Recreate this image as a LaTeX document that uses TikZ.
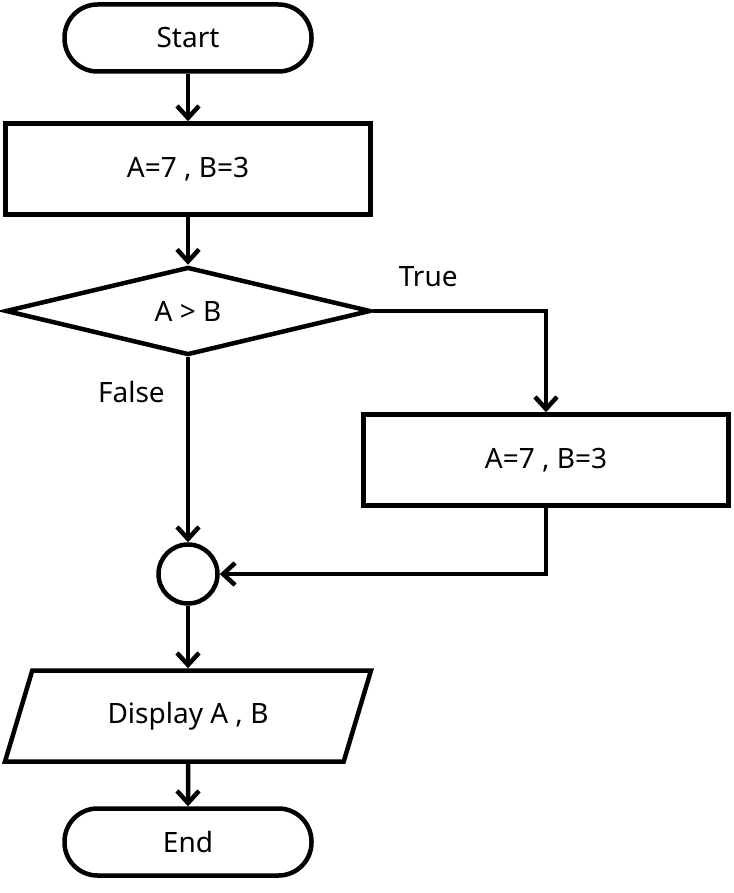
\documentclass[tikz,border=0pt]{standalone}
\usepackage{fontspec}
\setmainfont{Noto Sans}
\usetikzlibrary{arrows.meta}
\usetikzlibrary{shapes.geometric}

\begin{document}
\begin{tikzpicture}[x=1pt,y=-1pt,line width=4.5pt,
    >={Straight Barb[length=12pt,width=22pt]}, % open arrowheads
    font=\fontsize{28}{33}\selectfont,
    terminal/.style={draw,rounded corners=33pt,minimum width=247pt,minimum height=67pt,inner sep=0pt},
    process/.style={draw,rectangle,minimum width=365pt,minimum height=91pt,inner sep=0pt},
    decision/.style={draw,diamond,aspect=4,minimum width=365pt,minimum height=88pt,inner sep=0pt},
    io/.style={draw,trapezium,trapezium left angle=72,trapezium right angle=108,
      trapezium stretches body,minimum width=366pt,minimum height=91pt,inner xsep=0pt,inner ysep=28pt},
    joint/.style={draw,circle,minimum size=59pt,inner sep=0pt},
    lbl/.style={inner sep=0pt}]

  \useasboundingbox (0,0) rectangle (733,893);

  \node[terminal](start) at (188,38) {Start};
  \node[process](init) at (188,169) {A=7 , B=3};
  \node[decision](cond) at (188,311) {A > B};
  \node[process](swap) at (546,460) {A=7 , B=3};
  \node[joint](merge) at (188,574) {};
  \node[io](show) at (188,716) {Display A , B};
  \node[terminal](stop) at (188,842) {End};

  \draw[->] (start) -- (init);
  \draw[->] (init) -- (cond);
  \draw[->] (cond.east) -| node[lbl,pos=.16,above=22pt]{True} (swap.north);
  \draw[->] (cond.south) -- node[lbl,pos=.19,left=21pt]{False} (merge.north);
  \draw[->] (swap.south) |- (merge.east);
  \draw[->] (merge) -- (show);
  \draw[->] (show) -- (stop);

\end{tikzpicture}
\end{document}
